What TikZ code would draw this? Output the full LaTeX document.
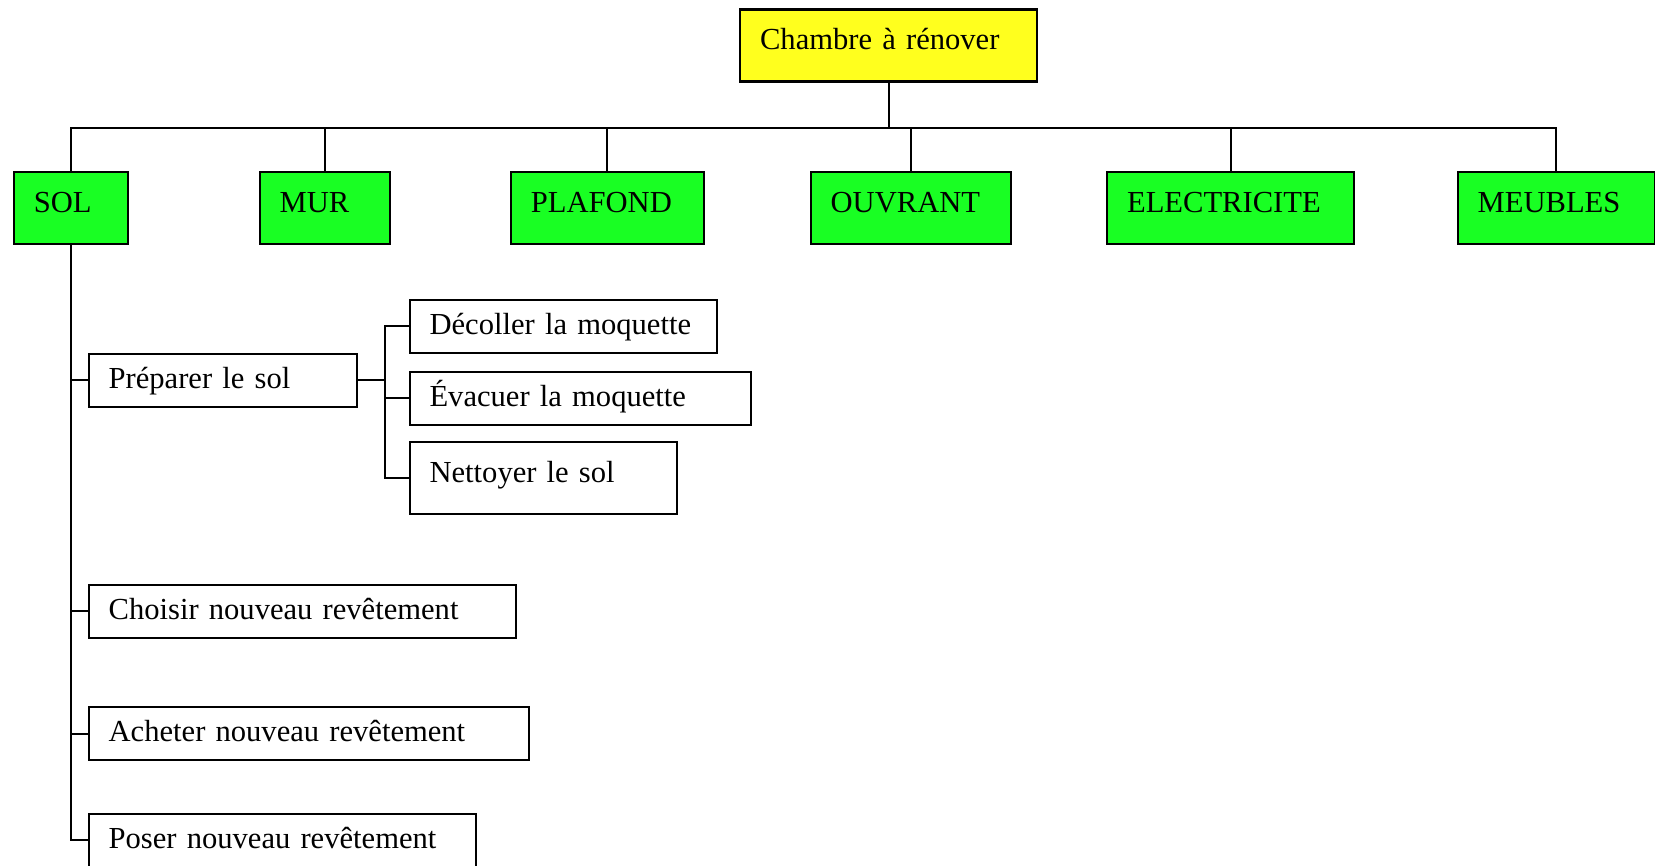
\documentclass[tikz,border=0pt]{standalone}
\usepackage{fontspec}
\setmainfont{Liberation Serif}
\usetikzlibrary{positioning}
\definecolor{rootyellow}{RGB}{255,255,30}
\definecolor{partgreen}{RGB}{25,255,35}
\hyphenpenalty=10000

\begin{document}
\begin{tikzpicture}[
	box/.style={draw, line width=0.6pt, anchor=north west, inner xsep=0.2cm, inner ysep=0pt,
		align=left, font=\fontsize{8.7pt}{10.5pt}\selectfont,
		text height=0.23cm, text depth=0.07cm, minimum height=0.53cm},
	tall/.style={minimum height=0.72cm, text depth=0.15cm},
	part/.style={box, tall, fill=partgreen},
	link/.style={line width=0.6pt}
]
	\useasboundingbox (0,0) rectangle (16.55,-8.65);
	% top
	\node[box, tall, fill=rootyellow, text width=2.57cm] (root) at (7.39,-0.084) {Chambre à rénover};
	% parts of the room
	\node[part, text width=0.74cm] (sol) at (0.127,-1.71) {SOL};
	\node[part, text width=0.90cm] (mur) at (2.586,-1.71) {MUR};
	\node[part, text width=1.53cm] (plaf) at (5.098,-1.71) {PLAFOND};
	\node[part, text width=1.605cm] (ouv) at (8.096,-1.71) {OUVRANT};
	\node[part, text width=2.07cm] (elec) at (11.06,-1.71) {ELECTRICITE};
	\node[part, text width=1.57cm] (meub) at (14.566,-1.71) {MEUBLES};
	% tasks for SOL
	\node[box, text width=2.28cm] (prep) at (0.876,-3.525) {Préparer le sol};
	\node[box, text width=2.67cm] (dec) at (4.085,-2.987) {Décoller la moquette};
	\node[box, text width=3.01cm] (eva) at (4.085,-3.705) {Évacuer la moquette};
	\node[box, tall, text width=2.27cm] (net) at (4.085,-4.41) {Nettoyer le sol};
	\node[box, text width=3.87cm] (cho) at (0.876,-5.837) {Choisir nouveau revêtement};
	\node[box, text width=4.00cm] (ach) at (0.876,-7.06) {Acheter nouveau revêtement};
	\node[box, text width=3.47cm] (pos) at (0.876,-8.127) {Poser nouveau revêtement};
	% connectors
	\path (root.south) ++(0,-0.456) coordinate (bus);
	\foreach \p in {sol,mur,plaf,ouv,elec,meub}
		\draw[link] (root.south) -- (bus) -| (\p.north);
	\foreach \t in {prep,cho,ach,pos}
		\draw[link] (sol.south) |- (\t.west);
	\path (prep.east) ++(0.27,0) coordinate (fork);
	\foreach \t in {dec,eva,net}
		\draw[link] (prep.east) -- (fork) |- (\t.west);
\end{tikzpicture}
\end{document}
